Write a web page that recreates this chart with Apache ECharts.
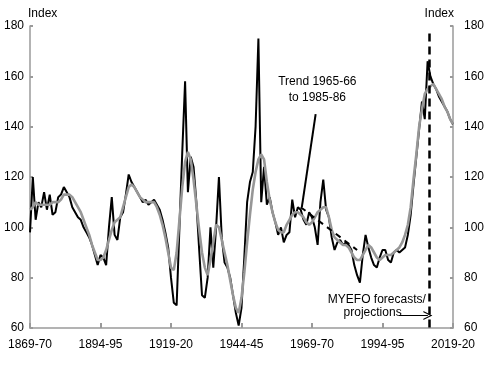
<!DOCTYPE html>
<html><head><meta charset="utf-8">
<script src="https://cdn.jsdelivr.net/npm/echarts@6/dist/echarts.min.js"></script>
<style>html,body{margin:0;padding:0;background:#fff}#c{width:487px;height:365px}</style>
</head><body><div id="c"></div>
<script>
const startYear = 1869;
const xTickLabels = ['1869-70','1894-95','1919-20','1944-45','1969-70','1994-95','2019-20'];
const yTicks = [60, 80, 100, 120, 140, 160, 180];
const termsOfTrade = [
 98,120,103,110,108,114,107,113,105,106, 112,113,116,114,112,108,106,104,103,100,
 98,96,93,89,85,89,88,85,100,112, 97,95,104,106,113,121,118,116,114,112,
 110,111,109,110,111,109,107,103,98,92, 80,70,69,100,130,158,114,128,124,110,
 91,73,72,80,100,84,100,120,96,86, 84,80,73,66,61,68,88,110,118,122,
 140,175,110,124,109,112,106,102,97,100, 94,97,98,111,104,108,107,103,101,106,
 104,100,93,110,119,107,104,96,91,94, 95,93,94,93,91,85,81,78,89,97,
 92,88,85,84,88,91,91,87,86,90, 91,90,91,92,97,105,117,128,139,150,
 143,166,160,157,155,152,150,148,146,143, 141
];
const trend = [
 107,108,110,109,109,109,109,109,110,110, 110,111,113,113,113,112,110,108,106,103,
 100,97,93,90,87,87,88,91,95,99, 102,103,104,108,112,116,117,116,114,112,
 111,110,110,110,110,108,105,101,96,90, 84,83,90,103,116,126,130,127,119,109,
 99,90,84,81,87,94,101,100,95,90, 85,79,73,68,66,72,82,94,105,115,
 122,127,129,127,118,111,106,102,99,98, 98,101,103,105,106,106,105,104,102,101,
 102,104,106,107,108,108,104,99,96,95, 94,93,93,92,90,88,87,87,89,91,
 93,92,90,88,87,88,89,89,89,90, 91,92,94,97,101,108,119,129,140,147,
 153,155,156,157,155,153,151,148,146,143, 141
];
// Linear trend 1965-66 to 1985-86 (year offsets from 1869-70, index values)
const trendSegX = [96, 116];
const trendSegY = [108, 91];
const forecastStart = 141.5;

const FONT = "'Liberation Sans',Arial,sans-serif";
const FS = 12;
const toPairs = arr => arr.map((v, i) => [i, v]);
const chart = echarts.init(document.getElementById('c'), null, {renderer: 'canvas'});
const axisGrey = '#9a9a9a';
const yAxisBase = {
  type: 'value', min: 60, max: 180, interval: 20,
  axisLine: {show: true, lineStyle: {color: axisGrey, width: 1.5}},
  axisTick: {show: true, inside: true, length: 3, lineStyle: {color: axisGrey, width: 2}},
  splitLine: {show: false},
  name: 'Index', nameLocation: 'end', nameGap: 6,
};
chart.setOption({
  animation: false,
  grid: {left: 30, right: 30, top: 26, bottom: 37},
  xAxis: {
    type: 'value', min: 0, max: 150, interval: 25,
    axisLine: {show: true, onZero: false, lineStyle: {color: axisGrey, width: 1.5}},
    axisTick: {show: true, inside: true, length: 5, lineStyle: {color: axisGrey, width: 2}},
    splitLine: {show: false},
    axisLabel: {color: '#000', fontFamily: FONT, fontSize: FS, margin: 11,
      formatter: v => xTickLabels[Math.round(v / 25)] || ''}
  },
  yAxis: [
    Object.assign({}, yAxisBase, {position: 'left',
      axisLabel: {color: '#000', fontFamily: FONT, fontSize: FS, margin: 6},
      nameTextStyle: {color: '#000', fontFamily: FONT, fontSize: FS, align: 'left', padding: [0,0,0,-2]}}),
    Object.assign({}, yAxisBase, {position: 'right',
      axisLabel: {color: '#000', fontFamily: FONT, fontSize: FS, margin: 11},
      nameTextStyle: {color: '#000', fontFamily: FONT, fontSize: FS, align: 'right', padding: [0,-1,0,0]}})
  ],
  series: [
    {
      type: 'line', data: toPairs(termsOfTrade), symbol: 'none',
      lineStyle: {color: '#000', width: 2}, z: 2,
      markLine: {
        silent: true, symbol: ['none', 'none'], animation: false,
        label: {show: false},
        data: [
          [{coord: [forecastStart, 177], lineStyle: {color: '#000', width: 2.5, type: [8, 5]}},
           {coord: [forecastStart, 60]}],
          [{coord: [trendSegX[0] + 0.4, trendSegY[0]], lineStyle: {color: '#000', width: 2, type: 'solid'}},
           {coord: [101.3, 145]}]
        ]
      },
      markPoint: {
        silent: true, symbol: 'circle', symbolSize: 0,
        label: {show: true, color: '#000', fontFamily: FONT, fontSize: FS, position: 'inside', lineHeight: 16},
        data: [
          {coord: [101.9, 154.6], label: {formatter: 'Trend 1965-66\nto 1985-86'}},
          {coord: [123, 71.1], label: {formatter: 'MYEFO forecasts/'}},
          {coord: [121.5, 66.2], label: {formatter: 'projections'}}
        ]
      }
    },
    {
      type: 'line', data: toPairs(trend), symbol: 'none',
      lineStyle: {color: '#979797', width: 2.6}, z: 3,
      markLine: {
        silent: true, animation: false,
        symbol: ['none', 'path://M0,10 L5,0 L10,10 L8.6,10 L5,2.6 L1.4,10 Z'], symbolSize: [9, 9],
        label: {show: false},
        data: [
          [{coord: [130.8, 65.0], lineStyle: {color: '#000', width: 1, type: 'solid'}},
           {coord: [141.1, 65.0]}]
        ]
      }
    },
    {
      type: 'line', data: trendSegX.map((x, i) => [x, trendSegY[i]]), symbol: 'none',
      lineStyle: {color: '#000', width: 2, type: [6, 5]}, z: 4
    }
  ]
});
</script></body></html>
